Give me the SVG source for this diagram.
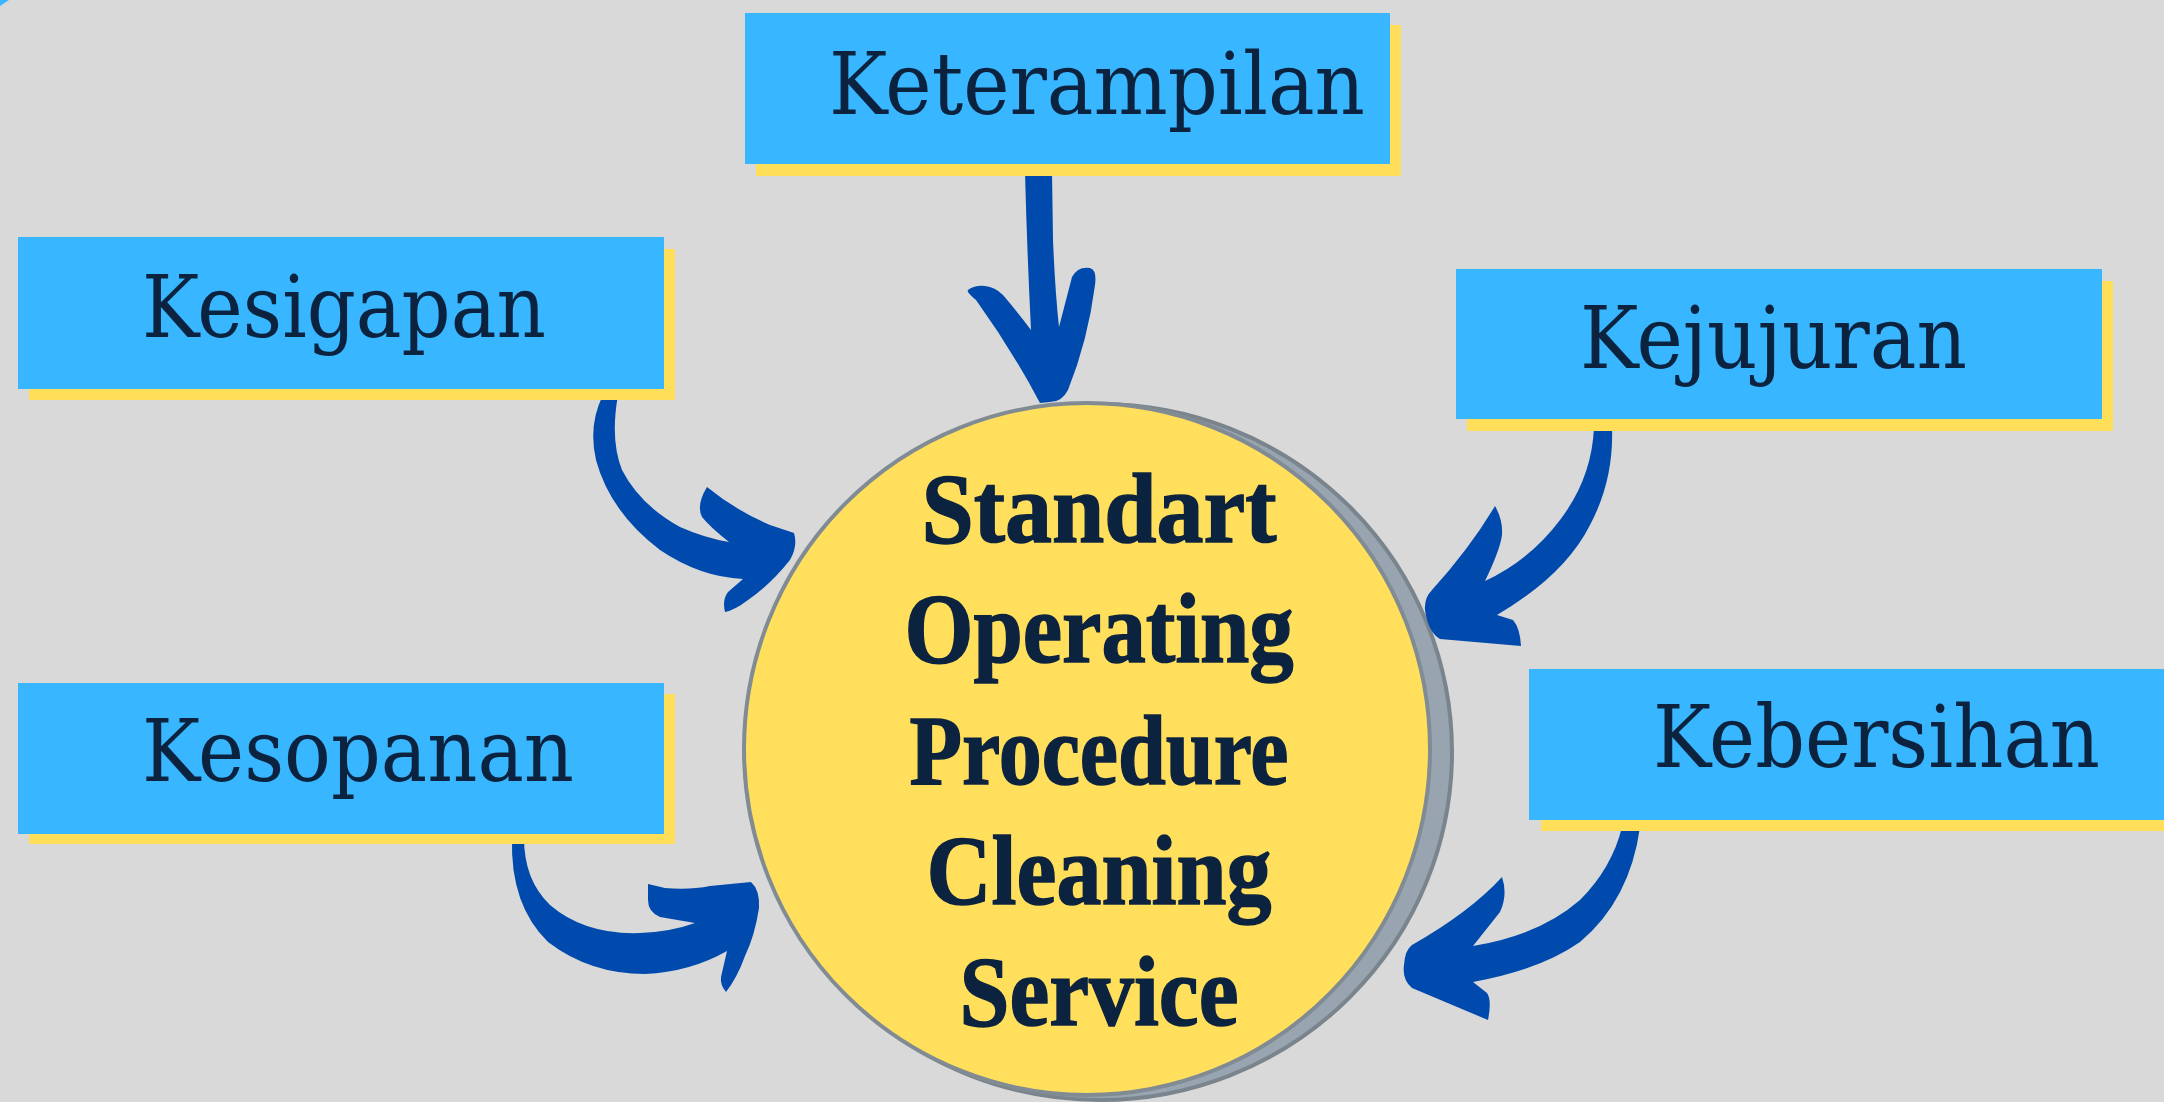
<svg xmlns="http://www.w3.org/2000/svg" width="2164" height="1102" viewBox="0 0 2164 1102">
<style>
.bg{fill:#D9D9D9}
.shadow{fill:#FFDE59}
.box{fill:#38B6FF}
.lbl{font-family:"DejaVu Serif","Liberation Serif",serif;font-size:86px;fill:#0C2340}
.ctr{font-family:"Liberation Serif","DejaVu Serif",serif;font-weight:bold;font-size:100px;fill:#0C2340;stroke:#0C2340;stroke-width:1.5;text-anchor:middle}
.arrow{fill:#004AAD}
</style>
<rect class="bg" x="0" y="0" width="2164" height="1102"/>
<polygon points="0,0 9,0 0,6" fill="#38B6FF"/>

<g id="center">
  <ellipse cx="1100" cy="752" rx="352" ry="348" fill="#98A4AF" stroke="#7A848D" stroke-width="4"/>
  <ellipse cx="1087" cy="749" rx="343" ry="346" fill="#FFDF5B" stroke="#808B94" stroke-width="4"/>
  <text class="ctr" x="1099" y="542" textLength="355" lengthAdjust="spacingAndGlyphs">Standart</text>
  <text class="ctr" x="1099" y="662" textLength="389" lengthAdjust="spacingAndGlyphs">Operating</text>
  <text class="ctr" x="1099" y="784" textLength="379" lengthAdjust="spacingAndGlyphs">Procedure</text>
  <text class="ctr" x="1099" y="904" textLength="345" lengthAdjust="spacingAndGlyphs">Cleaning</text>
  <text class="ctr" x="1099" y="1025" textLength="279" lengthAdjust="spacingAndGlyphs">Service</text>
</g>

<g id="connectors">
  <path class="arrow" d="M1025,172 L1052,172 L1053,240 Q1055,290 1059,327 L1072,277 Q1078,266 1090,268 Q1097,270 1095,285 Q1088,340 1068,390 Q1062,402 1050,402 L1040,403 Q1012,350 976,300 Q966,292 968,290 Q975,285 985,286 Q995,287 1003,295 Q1020,315 1031,330 Q1027,250 1025,172 Z"/>
  <path class="arrow" d="M603,395 L618,395 Q610,440 622,470 Q640,505 680,527 Q705,538 729,542 Q710,527 702,517 Q696,505 707,487 Q735,510 770,525 L794,533 Q798,546 790,560 Q770,585 748,600 Q735,610 725,612 Q722,600 728,592 L743,579 Q700,577 660,550 Q610,512 596,460 Q588,425 603,395 Z"/>
  <path class="arrow" d="M512,838 L524,838 Q524,880 550,905 Q585,935 640,933 Q670,932 695,923 L660,917 Q648,912 648,900 L648,884 L665,888 Q690,890 710,886 L751,882 Q760,890 759,908 Q755,935 745,956 Q737,978 726,992 Q720,985 721,977 L727,951 Q690,972 645,974 Q590,974 548,942 Q510,905 512,838 Z"/>
  <path class="arrow" d="M1594,427 L1612,427 Q1614,480 1590,525 Q1565,575 1497,615 L1513,620 Q1520,628 1521,646 L1440,639 Q1428,632 1425,610 Q1424,598 1432,590 Q1470,548 1495,506 Q1503,520 1502,535 Q1500,550 1485,581 Q1530,560 1560,520 Q1592,478 1594,427 Z"/>
  <path class="arrow" d="M1622,827 L1640,827 Q1630,900 1580,942 Q1540,970 1473,982 L1487,993 Q1492,1000 1488,1020 L1412,988 Q1402,980 1404,965 Q1405,950 1412,945 Q1470,912 1502,877 Q1508,895 1500,912 L1473,946 Q1540,935 1580,900 Q1612,868 1622,827 Z"/>
</g>

<g id="keterampilan">
  <rect class="shadow" x="756" y="25" width="645" height="151"/>
  <rect class="box" x="745" y="13" width="645" height="151"/>
  <text class="lbl" x="829" y="114" textLength="536" lengthAdjust="spacingAndGlyphs">Keterampilan</text>
</g>
<g id="kesigapan">
  <rect class="shadow" x="29" y="249" width="646" height="151"/>
  <rect class="box" x="18" y="237" width="646" height="152"/>
  <text class="lbl" x="142" y="337" textLength="404" lengthAdjust="spacingAndGlyphs">Kesigapan</text>
</g>
<g id="kejujuran">
  <rect class="shadow" x="1467" y="281" width="646" height="150"/>
  <rect class="box" x="1456" y="269" width="646" height="150"/>
  <text class="lbl" x="1580" y="368" textLength="387" lengthAdjust="spacingAndGlyphs">Kejujuran</text>
</g>
<g id="kesopanan">
  <rect class="shadow" x="29" y="694" width="646" height="150"/>
  <rect class="box" x="18" y="683" width="646" height="151"/>
  <text class="lbl" x="142" y="781" textLength="432" lengthAdjust="spacingAndGlyphs">Kesopanan</text>
</g>
<g id="kebersihan">
  <rect class="shadow" x="1541" y="681" width="640" height="150"/>
  <rect class="box" x="1529" y="669" width="640" height="151"/>
  <text class="lbl" x="1653" y="767" textLength="447" lengthAdjust="spacingAndGlyphs">Kebersihan</text>
</g>
</svg>
